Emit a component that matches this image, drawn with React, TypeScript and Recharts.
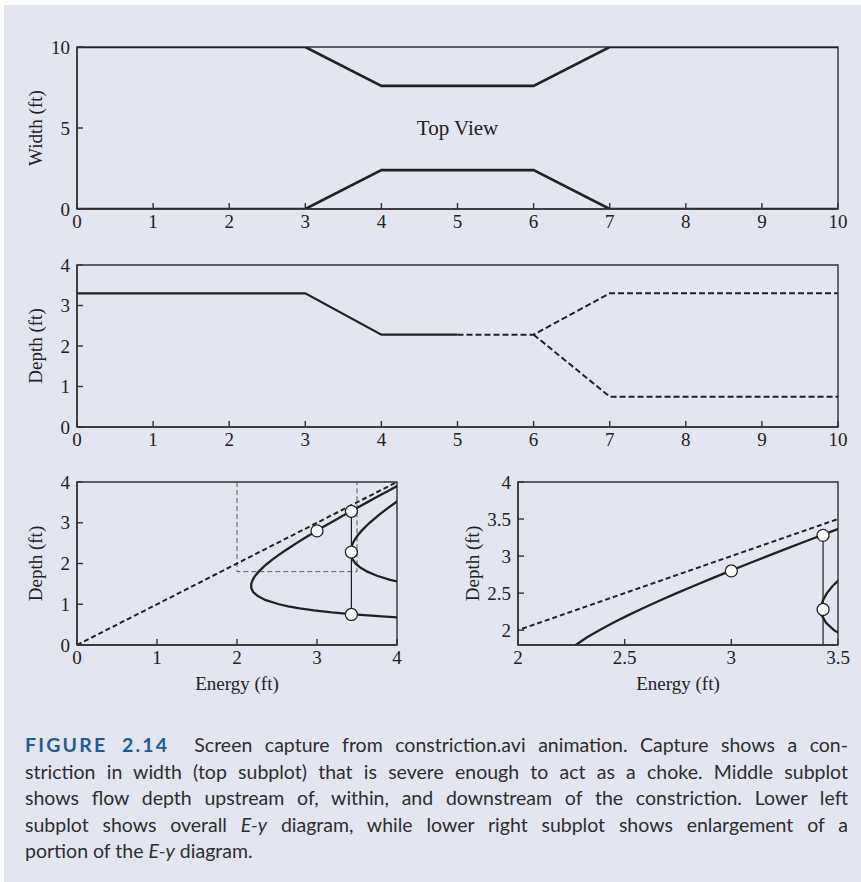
import React from 'react';
import { LineChart, Line, XAxis, YAxis, ReferenceArea } from 'recharts';

// ---- top view: channel walls (station ft, width ft)
const wallUpper = [
    { x: 0, y: 10 }, { x: 3, y: 10 }, { x: 4, y: 7.6 }, { x: 6, y: 7.6 }, { x: 7, y: 10 }, { x: 10, y: 10 },
];
const wallLower = [
    { x: 0, y: 0 }, { x: 3, y: 0 }, { x: 4, y: 2.4 }, { x: 6, y: 2.4 }, { x: 7, y: 0 }, { x: 10, y: 0 },
];

// ---- flow depth along channel
const depthSolid = [{ x: 0, y: 3.3 }, { x: 3, y: 3.3 }, { x: 4, y: 2.28 }, { x: 5, y: 2.28 }];
const depthSub = [{ x: 5, y: 2.28 }, { x: 6, y: 2.28 }, { x: 7, y: 3.3 }, { x: 10, y: 3.3 }];
const depthSuper = [{ x: 6, y: 2.28 }, { x: 7, y: 0.75 }, { x: 10, y: 0.75 }];

// ---- E-y diagram (energy ft, depth ft)
const curveUpstream = [
    { E: 4.161, y: 0.66 }, { E: 3.812, y: 0.7 }, { E: 3.461, y: 0.75 }, { E: 3.183, y: 0.8 },
    { E: 2.961, y: 0.85 }, { E: 2.783, y: 0.9 }, { E: 2.64, y: 0.95 }, { E: 2.525, y: 1.0 },
    { E: 2.36, y: 1.1 }, { E: 2.259, y: 1.2 }, { E: 2.202, y: 1.3 }, { E: 2.178, y: 1.4 },
    { E: 2.178, y: 1.5 }, { E: 2.196, y: 1.6 }, { E: 2.228, y: 1.7 }, { E: 2.271, y: 1.8 },
    { E: 2.322, y: 1.9 }, { E: 2.381, y: 2.0 }, { E: 2.446, y: 2.1 }, { E: 2.515, y: 2.2 },
    { E: 2.588, y: 2.3 }, { E: 2.665, y: 2.4 }, { E: 2.744, y: 2.5 }, { E: 2.826, y: 2.6 },
    { E: 2.909, y: 2.7 }, { E: 2.995, y: 2.8 }, { E: 3.081, y: 2.9 }, { E: 3.169, y: 3.0 },
    { E: 3.259, y: 3.1 }, { E: 3.349, y: 3.2 }, { E: 3.44, y: 3.3 }, { E: 3.532, y: 3.4 },
    { E: 3.625, y: 3.5 }, { E: 3.718, y: 3.6 }, { E: 3.811, y: 3.7 }, { E: 3.906, y: 3.8 },
    { E: 4.0, y: 3.9 }, { E: 4.095, y: 4.0 },
];
const curveConstriction = [
    { E: 4.133, y: 1.5 }, { E: 3.914, y: 1.6 }, { E: 3.75, y: 1.7 }, { E: 3.629, y: 1.8 },
    { E: 3.541, y: 1.9 }, { E: 3.481, y: 2.0 }, { E: 3.444, y: 2.1 }, { E: 3.424, y: 2.2 },
    { E: 3.42, y: 2.3 }, { E: 3.429, y: 2.4 }, { E: 3.448, y: 2.5 }, { E: 3.476, y: 2.6 },
    { E: 3.513, y: 2.7 }, { E: 3.556, y: 2.8 }, { E: 3.658, y: 3.0 }, { E: 3.779, y: 3.2 },
    { E: 3.913, y: 3.4 }, { E: 4.057, y: 3.6 },
];
const equalLine = [{ E: 0, y: 0 }, { E: 4, y: 4 }];
const zoomBox = [{ E: 2, y: 4 }, { E: 2, y: 1.8 }, { E: 3.5, y: 1.8 }, { E: 3.5, y: 4 }];
const jumpLine = [{ E: 3.43, y: 0.75 }, { E: 3.43, y: 3.28 }];
const statePoints = [{ E: 3.0, y: 2.8 }, { E: 3.43, y: 3.28 }, { E: 3.43, y: 2.28 }, { E: 3.43, y: 0.75 }];

// ---- ticks
const stationTicks = [0, 1, 2, 3, 4, 5, 6, 7, 8, 9, 10];
const widthTicks = [0, 5, 10];
const depthTicks = [0, 1, 2, 3, 4];
const energyTicks = [0, 1, 2, 3, 4];
const zoomEnergyTicks = [2, 2.5, 3, 3.5];
const zoomDepthTicks = [2, 2.5, 3, 3.5, 4];

const INK = '#222';
const SERIF = '"Liberation Serif", "Times New Roman", serif';
const tickStyle = { fill: '#222', fontSize: 19, fontFamily: SERIF };
const axisLine = { stroke: '#333', strokeWidth: 1.4 };

const AxisTitle = (props: any) => {
    const { tx, ty, text, rotate } = props;
    return (
        <text
            x={tx}
            y={ty}
            textAnchor="middle"
            dominantBaseline="central"
            transform={rotate ? `rotate(-90 ${tx} ${ty})` : undefined}
            style={{ fontFamily: SERIF, fontSize: 19, fill: '#222' }}
        >
            {text}
        </text>
    );
};

const axisCommon = {
    type: 'number' as const,
    tick: tickStyle,
    axisLine,
    tickLine: axisLine,
    tickSize: -6,
    tickMargin: 12,
    allowDataOverflow: true,
    interval: 0 as const,
};

function TopView() {
    return (
        <div style={{ position: 'absolute', left: 0, top: 0 }}>
            <LineChart width={861} height={240} margin={{ top: 47, right: 23, bottom: 1, left: 17 }}>
                <XAxis {...axisCommon} dataKey="x" domain={[0, 10]} ticks={stationTicks} height={30} />
                <YAxis {...axisCommon} tickMargin={13} domain={[0, 10]} ticks={widthTicks} width={60}
                    label={<AxisTitle tx={35} ty={128} text="Width (ft)" rotate />} />
                <ReferenceArea x1={0} x2={10} y1={0} y2={10} fill="none" stroke="#333" strokeWidth={1.4}
                    label={{ value: 'Top View', position: 'center', fontFamily: SERIF, fontSize: 21, fill: '#222' }} />
                <Line data={wallUpper} dataKey="y" stroke={INK} strokeWidth={2.6} dot={false} isAnimationActive={false} />
                <Line data={wallLower} dataKey="y" stroke={INK} strokeWidth={2.6} dot={false} isAnimationActive={false} />
            </LineChart>
        </div>
    );
}

function DepthProfile() {
    return (
        <div style={{ position: 'absolute', left: 0, top: 250 }}>
            <LineChart width={861} height={215} margin={{ top: 15, right: 23, bottom: 8, left: 17 }}>
                <XAxis {...axisCommon} dataKey="x" domain={[0, 10]} ticks={stationTicks} height={30} />
                <YAxis {...axisCommon} tickMargin={13} domain={[0, 4]} ticks={depthTicks} width={60}
                    label={<AxisTitle tx={35} ty={96} text="Depth (ft)" rotate />} />
                <ReferenceArea x1={0} x2={10} y1={0} y2={4} fill="none" stroke="#333" strokeWidth={1.4} />
                <Line data={depthSolid} dataKey="y" stroke={INK} strokeWidth={2.3} dot={false} isAnimationActive={false} />
                <Line data={depthSub} dataKey="y" stroke={INK} strokeWidth={2} strokeDasharray="6 3" dot={false} isAnimationActive={false} />
                <Line data={depthSuper} dataKey="y" stroke={INK} strokeWidth={2} strokeDasharray="6 3" dot={false} isAnimationActive={false} />
            </LineChart>
        </div>
    );
}

function EnergyDiagram({ left, zoomed }: { left: number; zoomed: boolean }) {
    const xDomain = zoomed ? [2, 3.5] : [0, 4];
    const yDomain = zoomed ? [1.8, 4] : [0, 4];
    const marginLeft = zoomed ? 28 : 17;
    const width = zoomed ? 431 : 430;
    const marginRight = zoomed ? 23 : 33;
    return (
        <div style={{ position: 'absolute', left, top: 470 }}>
            <LineChart width={width} height={230} margin={{ top: 12, right: marginRight, bottom: 5, left: marginLeft }}>
                <XAxis {...axisCommon} dataKey="E" domain={xDomain} ticks={zoomed ? zoomEnergyTicks : energyTicks} height={50}
                    label={<AxisTitle tx={zoomed ? 248 : 237} ty={213} text="Energy (ft)" />} />
                <YAxis {...axisCommon} tickMargin={13} dataKey="y" domain={yDomain} ticks={zoomed ? zoomDepthTicks : depthTicks} width={60}
                    label={<AxisTitle tx={zoomed ? 42 : 35} ty={93.5} text="Depth (ft)" rotate />} />
                <ReferenceArea x1={xDomain[0]} x2={xDomain[1]} y1={yDomain[0]} y2={yDomain[1]} fill="none" stroke="#333" strokeWidth={1.4} />
                {!zoomed && (
                    <Line data={zoomBox} dataKey="y" stroke="#555" strokeWidth={1} strokeDasharray="5 3" dot={false} isAnimationActive={false} />
                )}
                <Line data={equalLine} dataKey="y" stroke={INK} strokeWidth={2} strokeDasharray="5 3" dot={false} isAnimationActive={false} />
                <Line data={jumpLine} dataKey="y" stroke={INK} strokeWidth={1.2} dot={false} isAnimationActive={false} />
                <Line data={curveUpstream} dataKey="y" stroke={INK} strokeWidth={2.3} dot={false} isAnimationActive={false} />
                <Line data={curveConstriction} dataKey="y" stroke={INK} strokeWidth={2.3} dot={false} isAnimationActive={false} />
                <Line data={statePoints} dataKey="y" stroke="none" isAnimationActive={false}
                    dot={{ r: 6, fill: '#fff', stroke: INK, strokeWidth: 1.3 }} />
            </LineChart>
        </div>
    );
}

const captionLines = [
    'striction in width (top subplot) that is severe enough to act as a choke. Middle subplot',
    'shows flow depth upstream of, within, and downstream of the constriction. Lower left',
];

export default function App() {
    const lineStyle: React.CSSProperties = { textAlign: 'justify', textAlignLast: 'justify' };
    return (
        <div style={{ position: 'absolute', left: 0, top: 0, width: 861, height: 882, background: '#fff', overflow: 'hidden' }}>
            <div style={{ position: 'absolute', left: 4, top: 5, right: 0, bottom: 0, background: '#e3e5f1' }} />
            <TopView />
            <DepthProfile />
            <EnergyDiagram left={0} zoomed={false} />
            <EnergyDiagram left={430} zoomed />

            {/* Caption */}
            <div style={{
                position: 'absolute', left: 25, top: 732, width: 823,
                fontFamily: 'Lato, "Noto Sans", sans-serif', fontSize: 19.5, lineHeight: '26.5px', color: '#2e2e2e',
            }}>
                <div style={lineStyle}>
                    <span style={{ color: '#1d5b9b', fontWeight: 700, letterSpacing: 2.2 }}>FIGURE 2.14</span>
                    {'\u00a0\u00a0'}Screen capture from constriction.avi animation. Capture shows a con-
                </div>
                {captionLines.map(t => (
                    <div key={t} style={lineStyle}>{t}</div>
                ))}
                <div style={lineStyle}>
                    subplot shows overall <i>E-y</i> diagram, while lower right subplot shows enlargement of a
                </div>
                <div>portion of the <i>E-y</i> diagram.</div>
            </div>
        </div>
    );
}
